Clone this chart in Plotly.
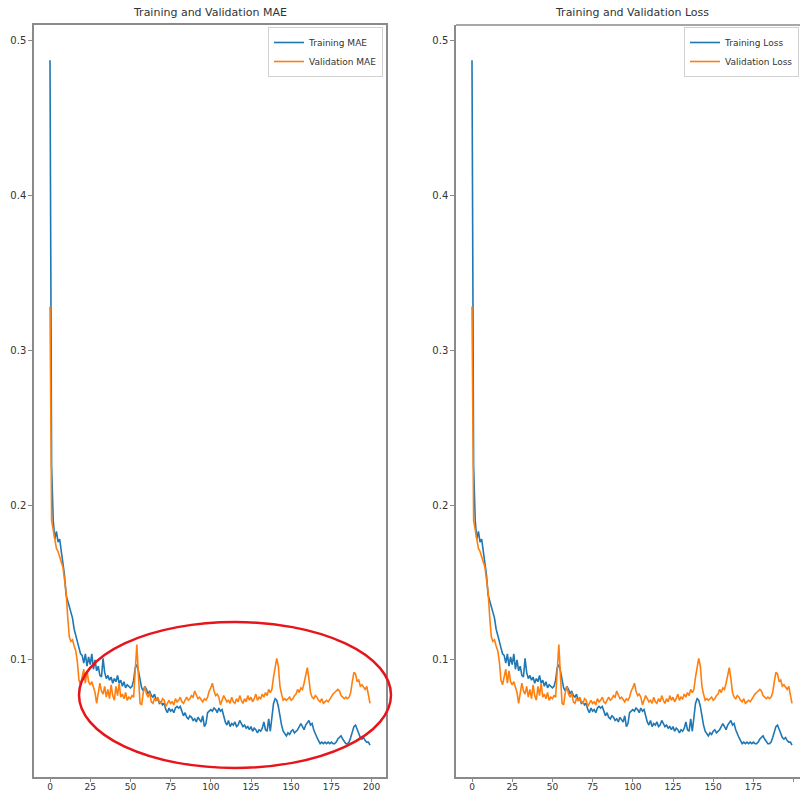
import plotly.graph_objects as go

# ---- training history (200 epochs) ----
epochs = list(range(200))

train_mae = [
    0.487, 0.225, 0.190, 0.178, 0.183, 0.176, 0.178, 0.170, 0.165, 0.155,
    0.142, 0.138, 0.135, 0.130, 0.127, 0.120, 0.115, 0.112, 0.108, 0.104,
    0.103, 0.098, 0.104, 0.096, 0.102, 0.097, 0.104, 0.094, 0.100, 0.093,
    0.096, 0.090, 0.089, 0.101, 0.092, 0.088, 0.090, 0.087, 0.089, 0.085,
    0.088, 0.086, 0.090, 0.085, 0.087, 0.083, 0.086, 0.082, 0.084, 0.083,
    0.082, 0.083, 0.087, 0.095, 0.097, 0.093, 0.086, 0.082, 0.080, 0.083,
    0.081, 0.078, 0.080, 0.077, 0.076, 0.078, 0.074, 0.075, 0.072, 0.073,
    0.071, 0.072, 0.068, 0.066, 0.069, 0.067, 0.068, 0.066, 0.069, 0.070,
    0.069, 0.070, 0.067, 0.064, 0.066, 0.063, 0.062, 0.064, 0.063, 0.061,
    0.062, 0.060, 0.063, 0.061, 0.060, 0.064, 0.057, 0.059, 0.066, 0.067,
    0.068, 0.067, 0.069, 0.068, 0.066, 0.069, 0.067, 0.068, 0.063, 0.060,
    0.058, 0.061, 0.057, 0.059, 0.058, 0.060, 0.057, 0.058, 0.061, 0.059,
    0.057, 0.058, 0.056, 0.057, 0.055, 0.057, 0.054, 0.056, 0.055, 0.053,
    0.055, 0.054, 0.056, 0.060, 0.055, 0.054, 0.062, 0.054, 0.064, 0.072,
    0.075, 0.074, 0.070, 0.063, 0.058, 0.054, 0.052, 0.051, 0.053, 0.052,
    0.054, 0.055, 0.053, 0.054, 0.055, 0.057, 0.059, 0.057, 0.055, 0.058,
    0.060, 0.061, 0.058, 0.059, 0.055, 0.052, 0.050, 0.048, 0.046, 0.047,
    0.046, 0.047, 0.046, 0.047, 0.046, 0.047, 0.046, 0.046, 0.047, 0.049,
    0.050, 0.051, 0.049, 0.047, 0.046, 0.046, 0.047, 0.050, 0.054, 0.057,
    0.058, 0.055, 0.053, 0.050, 0.049, 0.050, 0.048, 0.047, 0.047, 0.045,
]

val_mae = [
    0.328, 0.190, 0.184, 0.178, 0.172, 0.170, 0.167, 0.164, 0.160, 0.152,
    0.144, 0.128, 0.115, 0.112, 0.113, 0.109, 0.106, 0.099, 0.087, 0.084,
    0.089, 0.094, 0.085, 0.093, 0.086, 0.084, 0.086, 0.082, 0.079, 0.072,
    0.078, 0.085, 0.080, 0.078, 0.083, 0.076, 0.081, 0.075, 0.084, 0.077,
    0.074, 0.083, 0.077, 0.085, 0.076, 0.078, 0.075, 0.079, 0.074, 0.076,
    0.075, 0.077, 0.076, 0.094, 0.110, 0.090, 0.072, 0.071, 0.079, 0.083,
    0.078, 0.076, 0.079, 0.073, 0.072, 0.075, 0.074, 0.076, 0.073, 0.072,
    0.075, 0.074, 0.070, 0.072, 0.074, 0.072, 0.073, 0.071, 0.075, 0.073,
    0.074, 0.076, 0.073, 0.072, 0.074, 0.076, 0.074, 0.075, 0.077, 0.076,
    0.080, 0.078, 0.075, 0.076, 0.074, 0.073, 0.075, 0.074, 0.076, 0.080,
    0.082, 0.085, 0.080, 0.077, 0.078, 0.076, 0.071, 0.074, 0.077, 0.075,
    0.073, 0.074, 0.072, 0.076, 0.073, 0.072, 0.075, 0.073, 0.077, 0.074,
    0.072, 0.075, 0.073, 0.077, 0.074, 0.076, 0.073, 0.075, 0.078, 0.074,
    0.076, 0.075, 0.078, 0.076, 0.079, 0.077, 0.081, 0.079, 0.081, 0.089,
    0.094, 0.101, 0.096, 0.083, 0.078, 0.074, 0.075, 0.074, 0.075, 0.076,
    0.074, 0.075, 0.077, 0.078, 0.081, 0.079, 0.082, 0.081, 0.085, 0.090,
    0.095, 0.088, 0.079, 0.076, 0.075, 0.077, 0.076, 0.074, 0.073, 0.075,
    0.072, 0.073, 0.074, 0.073, 0.075, 0.076, 0.078, 0.079, 0.080, 0.081,
    0.080, 0.077, 0.076, 0.075, 0.076, 0.075, 0.076, 0.079, 0.086, 0.092,
    0.091, 0.086, 0.087, 0.083, 0.084, 0.082, 0.081, 0.083, 0.077, 0.072,
]

# the model is trained with MAE as its loss, so both panels show the same curves
train_loss = list(train_mae)
val_loss = list(val_mae)

y_ticks = [0.1, 0.2, 0.3, 0.4, 0.5]
x_ticks = [0, 25, 50, 75, 100, 125, 150, 175, 200]

BLUE = "#1f77b4"
ORANGE = "#ff7f0e"
FRAME = "#8a8a8a"
TXT = "#333333"
FONT = "DejaVu Sans"

W, H = 800, 791


def px_x(p):
    return p / W


def px_y(p):
    return 1 - p / H


fig = go.Figure()

fig.add_trace(go.Scatter(x=epochs, y=train_mae, mode="lines", name="Training MAE",
                         line=dict(color=BLUE, width=1.6), xaxis="x", yaxis="y",
                         legend="legend"))
fig.add_trace(go.Scatter(x=epochs, y=val_mae, mode="lines", name="Validation MAE",
                         line=dict(color=ORANGE, width=1.6), xaxis="x", yaxis="y",
                         legend="legend"))
fig.add_trace(go.Scatter(x=epochs, y=train_loss, mode="lines", name="Training Loss",
                         line=dict(color=BLUE, width=1.6), xaxis="x2", yaxis="y2",
                         legend="legend2"))
fig.add_trace(go.Scatter(x=epochs, y=val_loss, mode="lines", name="Validation Loss",
                         line=dict(color=ORANGE, width=1.6), xaxis="x2", yaxis="y2",
                         legend="legend2"))

ydom = [px_y(777), px_y(25)]
yrange = [0.0245, 0.5097]

common_x = dict(tickmode="array", tickvals=x_ticks, ticks="outside", ticklen=3,
                tickcolor=FRAME, showgrid=False, zeroline=False,
                showline=True, linecolor=FRAME, linewidth=1.5,
                ticklabelstandoff=-3,
                tickfont=dict(family=FONT, size=9, color=TXT), automargin=False)
common_y = dict(tickmode="array", tickvals=y_ticks, ticktext=[str(v) for v in y_ticks],
                ticks="outside", ticklen=4, tickcolor=FRAME, showgrid=False,
                zeroline=False, showline=True, linecolor=FRAME, linewidth=1.5,
                range=yrange, domain=ydom,
                tickfont=dict(family=FONT, size=10, color=TXT), automargin=False)

legend_common = dict(bgcolor="white", bordercolor="#d0d0d0", borderwidth=1,
                     font=dict(family=FONT, size=9, color=TXT),
                     yanchor="top", tracegroupgap=0, itemwidth=30)

fig.update_layout(
    width=W, height=H,
    margin=dict(l=0, r=0, t=0, b=0, autoexpand=False),
    paper_bgcolor="white", plot_bgcolor="white",
    showlegend=True,
    xaxis=dict(common_x, domain=[px_x(34), px_x(386)], range=[-9.95, 208.95],
               mirror=True, anchor="y"),
    yaxis=dict(common_y, mirror=True, anchor="x"),
    xaxis2=dict(common_x, domain=[px_x(456), 1.0], range=[-9.95, 203.98],
                mirror=False, anchor="y2"),
    yaxis2=dict(common_y, mirror=False, anchor="x2"),
    legend=dict(legend_common, x=px_x(383), xanchor="right", y=px_y(27)),
    legend2=dict(legend_common, x=px_x(684), xanchor="left", y=px_y(27)),
    annotations=[
        dict(text="Training and Validation MAE", x=px_x(210), y=px_y(13),
             xref="paper", yref="paper", showarrow=False, xanchor="center",
             yanchor="middle", font=dict(family=FONT, size=11, color=TXT)),
        dict(text="Training and Validation Loss", x=px_x(632), y=px_y(13),
             xref="paper", yref="paper", showarrow=False, xanchor="center",
             yanchor="middle", font=dict(family=FONT, size=11, color=TXT)),
    ],
    shapes=[
        # top border of the right panel (its right edge runs off the canvas)
        dict(type="line", xref="paper", yref="paper", x0=px_x(456), x1=1.0,
             y0=ydom[1], y1=ydom[1], line=dict(color=FRAME, width=1.5)),
        # red highlight ellipse around the late-epoch gap
        dict(type="circle", xref="paper", yref="paper",
             x0=px_x(79), x1=px_x(391), y0=px_y(768), y1=px_y(622),
             line=dict(color="#e8141b", width=2.5), layer="above"),
    ],
)

fig.write_html("out.html")
